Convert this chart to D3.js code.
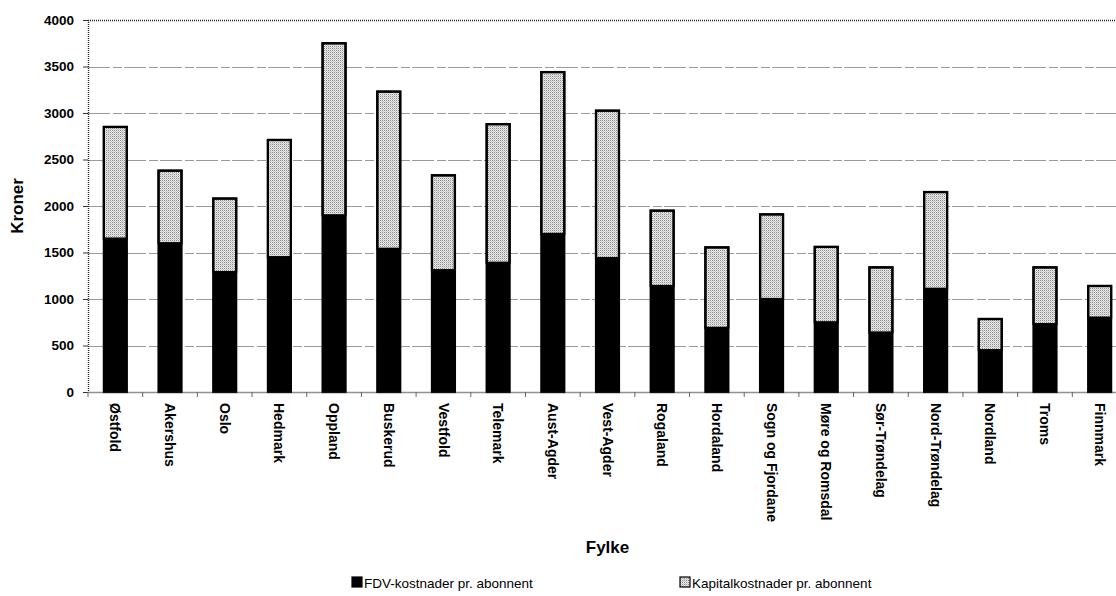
<!DOCTYPE html>
<html><head><meta charset="utf-8">
<script src="https://cdn.jsdelivr.net/npm/d3@7/dist/d3.min.js"></script>
<style>
html,body{margin:0;padding:0;background:#fff;}
svg{display:block;font-family:"Liberation Sans",Arial,sans-serif;}
</style></head>
<body><svg id="chart" width="1116" height="596"></svg>
<script>
const categories = ["Østfold","Akershus","Oslo","Hedmark","Oppland","Buskerud","Vestfold","Telemark","Aust-Agder","Vest-Agder","Rogaland","Hordaland","Sogn og Fjordane","Møre og Romsdal","Sør-Trøndelag","Nord-Trøndelag","Nordland","Troms","Finnmark"];
const totals = [2850,2380,2080,2710,3750,3230,2330,2880,3440,3025,1950,1555,1910,1560,1340,2150,785,1340,1140];
const fdv = [1650,1600,1290,1450,1900,1540,1310,1390,1700,1440,1140,690,1000,750,640,1110,450,730,800];
const kapital = totals.map((t,i)=>t-fdv[i]);
const yTicks = [0,500,1000,1500,2000,2500,3000,3500,4000];
const seriesNames = ["FDV-kostnader pr. abonnent","Kapitalkostnader pr. abonnent"];
const yTitle = "Kroner", xTitle = "Fylke";

(function(){
const svg = d3.select("#chart");
const defs = svg.append("defs");
const pat = defs.append("pattern").attr("id","stip").attr("patternUnits","userSpaceOnUse").attr("width",2).attr("height",2);
pat.append("rect").attr("width",2).attr("height",2).attr("fill","#e6e6e6");
pat.append("rect").attr("width",1).attr("height",1).attr("fill","#909090");
pat.append("rect").attr("x",1).attr("y",1).attr("width",1).attr("height",1).attr("fill","#cccccc");

const pL = 88, pR = 1127, pT = 20, pB = 392;
const x = d3.scaleBand().domain(categories).range([pL,pR]).paddingInner(0.58).paddingOuter(0.29);
const y = d3.scaleLinear().domain([0,4000]).range([pB,pT]);

// gridlines
svg.append("g").selectAll("line").data(yTicks.filter(d=>d>0 && d<4000)).join("line")
  .attr("x1",pL).attr("x2",pR).attr("y1",d=>Math.round(y(d))+0.5).attr("y2",d=>Math.round(y(d))+0.5)
  .attr("stroke","#9a9a9a").attr("stroke-width",1).attr("stroke-dasharray","22,3,9,2");

// plot border top & left
svg.append("line").attr("x1",pL).attr("x2",pR).attr("y1",pT+0.5).attr("y2",pT+0.5)
  .attr("stroke","#222").attr("stroke-width",1.4).attr("stroke-dasharray","1,1");
svg.append("line").attr("x1",pL+0.5).attr("x2",pL+0.5).attr("y1",pT).attr("y2",pB)
  .attr("stroke","#222").attr("stroke-width",1.4).attr("stroke-dasharray","1,1");

// y axis
const yAxis = d3.axisLeft(y).tickValues(yTicks).tickSize(5).tickPadding(9).tickFormat(d3.format("d"));
const ya = svg.append("g").attr("transform",`translate(${pL},0)`).call(yAxis);
ya.select(".domain").remove();
ya.selectAll(".tick line").attr("stroke","#333");
ya.selectAll(".tick text").attr("font-size",13.5).attr("font-weight","bold").attr("fill","#000")
  .attr("font-family","'Liberation Sans',Arial,sans-serif");

// bars
const bw = x.bandwidth();
const g = svg.append("g");
g.selectAll("rect.fdv").data(categories).join("rect").attr("class","fdv")
  .attr("x",d=>x(d)).attr("width",bw)
  .attr("y",(d,i)=>y(fdv[i])).attr("height",(d,i)=>y(0)-y(fdv[i]))
  .attr("fill","#000");
g.selectAll("rect.kap").data(categories).join("rect").attr("class","kap")
  .attr("x",d=>x(d)).attr("width",bw)
  .attr("y",(d,i)=>y(totals[i])).attr("height",(d,i)=>y(fdv[i])-y(totals[i]))
  .attr("fill","url(#stip)").attr("stroke","#000").attr("stroke-width",2.2);
g.selectAll("rect.outline").data(categories).join("rect").attr("class","outline")
  .attr("x",d=>x(d)).attr("width",bw)
  .attr("y",(d,i)=>y(totals[i])).attr("height",(d,i)=>y(0)-y(totals[i]))
  .attr("fill","none").attr("stroke","#000").attr("stroke-width",2.2);

// x axis
const xa = svg.append("g").attr("transform",`translate(0,${pB})`)
  .call(d3.axisBottom(x).tickSize(0).tickPadding(0));
xa.select(".domain").attr("stroke","#222").attr("stroke-width",1.6).attr("stroke-dasharray","1,1");
xa.selectAll(".tick text")
  .attr("font-size",14).attr("font-weight","bold").attr("fill","#000")
  .attr("font-family","'Liberation Sans',Arial,sans-serif")
  .attr("text-anchor","start").attr("dy","0.35em").attr("y",0)
  .attr("transform","translate(0,11) rotate(90)");
// boundary ticks
const step = x.step();
svg.append("g").selectAll("line").data(d3.range(categories.length+1)).join("line")
  .attr("x1",i=>pL+i*step).attr("x2",i=>pL+i*step)
  .attr("y1",pB).attr("y2",pB+5).attr("stroke","#666").attr("stroke-width",1);

// axis titles
svg.append("text").attr("transform",`translate(23,${(pT+pB)/2}) rotate(-90)`)
  .attr("text-anchor","middle").attr("font-size",17).attr("font-weight","bold").text(yTitle);
svg.append("text").attr("x",(pL+pR)/2).attr("y",553)
  .attr("text-anchor","middle").attr("font-size",17).attr("font-weight","bold").text(xTitle);

// legend
const legX = [352,680];
const lg = svg.append("g");
seriesNames.forEach((name,i)=>{
  lg.append("rect").attr("x",legX[i]).attr("y",577).attr("width",10).attr("height",10)
    .attr("fill",i===0?"#000":"url(#stip)").attr("stroke","#000").attr("stroke-width",1.2);
  lg.append("text").attr("x",legX[i]+12).attr("y",587.5).attr("font-size",13.5).attr("fill","#000").text(name);
});
})();
</script></body></html>
